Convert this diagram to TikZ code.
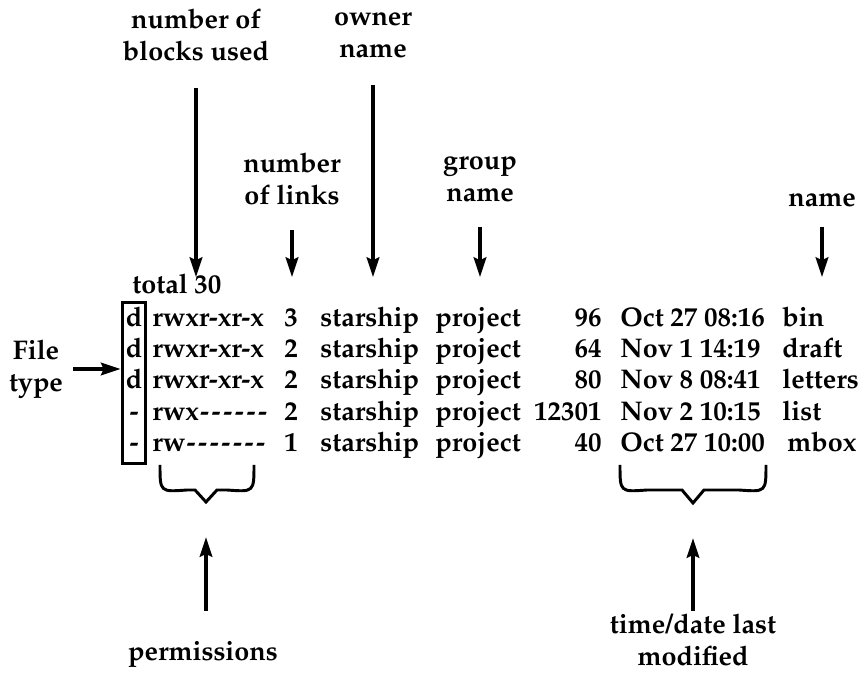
\documentclass[tikz,border=0pt]{standalone}
\usepackage[T1]{fontenc}
\usepackage{mathpazo}
\usetikzlibrary{arrows.meta}
\newcommand{\pdash}{\makebox[0.43em]{-}}
\tikzset{
  lbl/.style={font=\fontsize{19.2}{22.5}\selectfont\bfseries, align=center, inner sep=0pt},
  cell/.style={font=\fontsize{19.2}{22.5}\selectfont\bfseries, inner sep=0pt},
  ptr/.style={line width=2.2pt, -{Stealth[length=14pt,width=9pt,inset=2pt]}},
  brc/.style={line width=2.1pt},
}
\begin{document}
\begin{tikzpicture}[x=0.025cm,y=-0.025cm]
\useasboundingbox (0,0) rectangle (864,674);

% column heads
\node[lbl] (blocks) at (196,35) {number of\\blocks used};
\node[lbl] (owner) at (373,35) {owner\\name};
\node[lbl] (links) at (292,179) {number\\of links};
\node[lbl] (group) at (480,179) {group\\name};
\node[lbl] (fname) at (822,200) {name};
\coordinate (tips) at (0,277);

\draw[ptr, shorten <=19pt] (blocks.south) -- (blocks.south |- tips);
\draw[ptr, shorten <=19pt] (owner.south) -- (owner.south |- tips);
\draw[ptr, shorten <=18pt] (links.south) -- (links.south |- tips);
\draw[ptr, shorten <=18pt] (group.south) -- (group.south |- tips);
\draw[ptr, shorten <=14pt] (fname.south) -- (fname.south |- tips);

% listing
\node[cell, anchor=mid west] (total) at (132,290) {total 30};
\foreach \y/\t/\p/\l/\s/\d/\n/\nx [count=\i] in {
    323/d/rwxr-xr-x/3/96/Oct 27 08:16/bin/782,
    354/d/rwxr-xr-x/2/64/Nov 1 14:19/draft/782,
    385/d/rwxr-xr-x/2/80/Nov 8 08:41/letters/782,
    417/-/rwx\pdash\pdash\pdash\pdash\pdash\pdash/2/12301/Nov 2 10:15/list/782,
    448/-/rw\pdash\pdash\pdash\pdash\pdash\pdash\pdash/1/40/Oct 27 10:00/mbox/787} {
  \node[cell, anchor=mid] (type\i) at (134,\y) {\t};
  \node[cell, anchor=mid west] (perm\i) at (152,\y) {\p};
  \node[cell, anchor=mid] (nlink\i) at (291,\y) {\l};
  \node[cell, anchor=mid west] (own\i) at (320,\y) {starship};
  \node[cell, anchor=mid west] (grp\i) at (435,\y) {project};
  \node[cell, anchor=mid east] (size\i) at (602,\y) {\s};
  \node[cell, anchor=mid west] (date\i) at (620,\y) {\d};
  \node[cell, anchor=mid west] (file\i) at (\nx,\y) {\n};
}

% file type
\node[draw, line width=2.1pt, minimum width=17pt, minimum height=114pt, inner sep=0pt] (tbox) at (134,383) {};
\node[lbl] (ftype) at (36,369) {File\\type};
\draw[ptr, shorten <=7pt] (ftype.east) -- (ftype.east -| tbox.west);

% permissions
\draw[brc] (160,465) .. controls (160,492) .. (187,490) -- (195,490) -- (206,502)
  -- (217,490) -- (227,490) .. controls (254,492) .. (254,465);
\coordinate (permtip) at (206,502);
\node[lbl] (perms) at (203,655) {permissions};
\draw[ptr, shorten <=22pt, shorten >=25pt] (perms.north -| permtip) -- (permtip);

% time/date
\draw[brc] (620,465) .. controls (620,492) .. (647,490) -- (682,490) -- (693,503)
  -- (704,490) -- (739,490) .. controls (766,492) .. (766,465);
\coordinate (timetip) at (693,503);
\node[lbl] (tdate) at (693,640) {time/date last\\modified};
\draw[ptr, shorten <=2pt, shorten >=25pt] (tdate.north -| timetip) -- (timetip);
\end{tikzpicture}
\end{document}
